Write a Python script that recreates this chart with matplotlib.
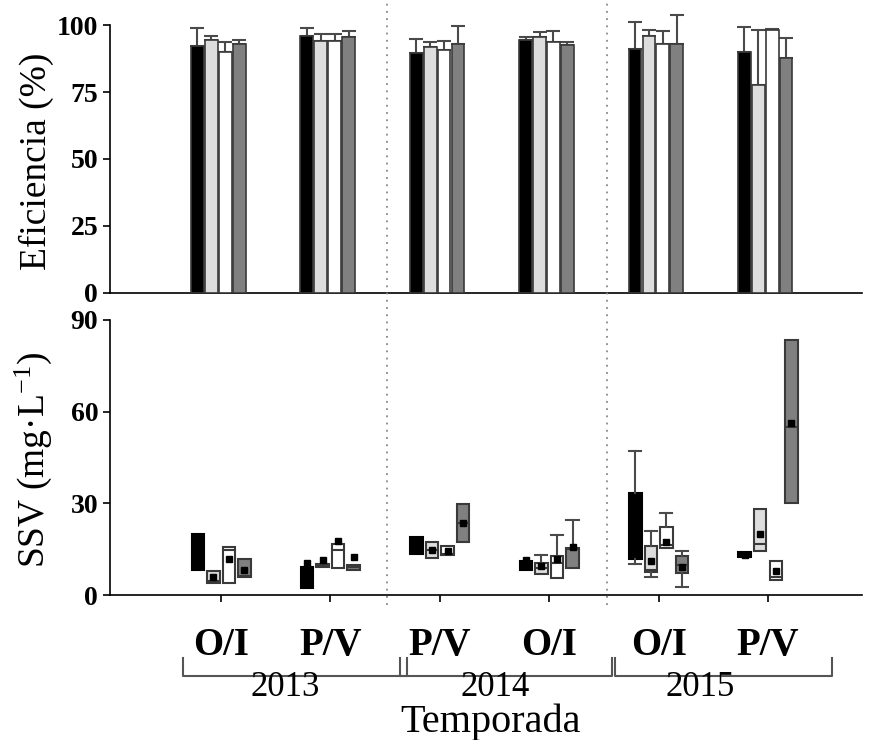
import numpy as np
import matplotlib
matplotlib.use('Agg')
import matplotlib.pyplot as plt
from matplotlib.transforms import blended_transform_factory

plt.rcParams['font.family'] = ['Liberation Serif', 'DejaVu Serif']
plt.rcParams['mathtext.fontset'] = 'custom'
plt.rcParams['mathtext.rm'] = 'Liberation Serif'
plt.rcParams['mathtext.default'] = 'regular'

#%% data

groups = ['O/I', 'P/V', 'P/V', 'O/I', 'O/I', 'P/V']
years = ['2013', '2014', '2015']
colors = ['#000000', '#dddddd', '#ffffff', '#808080']

# Eficiencia (%) - mean and top of the error bar for the 4 series
eff_mean = [
    [92.2, 96.0, 89.4, 94.4, 90.9, 90.1],
    [94.4, 94.0, 91.9, 95.7, 96.0, 77.7],
    [90.0, 94.0, 90.8, 93.5, 93.1, 98.3],
    [92.9, 95.6, 93.1, 92.4, 92.9, 87.7],
]
eff_top = [
    [98.9, 98.9, 94.9, 95.7, 101.3, 99.3],
    [96.0, 96.5, 93.5, 97.3, 98.0, 98.0],
    [93.5, 96.8, 94.2, 97.6, 97.6, 98.5],
    [94.5, 97.6, 99.6, 93.5, 103.6, 95.3],
]

# SSV (mg/L) box stats, nan = no whisker
ssv_q1 = [
    [8.2, 2.2, 13.5, 8.2, 11.8, 12.5],
    [4.1, 9.1, 12.2, 6.8, 7.4, 14.5],
    [4.1, 8.7, 13.2, 5.5, 15.4, 4.9],
    [5.8, 8.3, 17.3, 8.7, 7.2, 30.1],
]
ssv_med = [
    [14.0, 5.0, 16.0, 9.5, 20.0, 13.0],
    [4.5, 9.7, 14.7, 8.7, 8.2, 16.8],
    [14.7, 14.7, 13.5, 10.6, 16.4, 6.0],
    [6.3, 9.1, 23.7, 15.0, 9.7, 55.0],
]
ssv_q3 = [
    [19.9, 9.2, 19.1, 11.0, 33.4, 14.0],
    [8.0, 10.3, 17.2, 10.6, 16.1, 28.1],
    [15.8, 16.6, 16.0, 12.9, 22.1, 11.2],
    [11.8, 9.8, 29.9, 15.5, 12.9, 83.4],
]
ssv_mean = [
    [14.0, 10.4, 16.0, 11.3, 22.0, 13.2],
    [5.8, 11.4, 14.7, 9.6, 11.0, 19.9],
    [11.7, 17.7, 14.3, 11.7, 17.3, 8.0],
    [8.2, 12.4, 23.7, 15.8, 9.2, 56.2],
]
nan = np.nan
ssv_lo = [
    [nan, nan, nan, nan, 10.0, nan],
    [nan, nan, nan, nan, 5.9, nan],
    [nan, nan, nan, nan, nan, nan],
    [nan, nan, nan, nan, 2.7, nan],
]
ssv_hi = [
    [nan, nan, nan, nan, 47.1, nan],
    [nan, nan, nan, 13.2, 21.0, nan],
    [nan, nan, nan, 19.7, 26.7, nan],
    [nan, nan, nan, 24.5, 14.4, nan],
]

#%% figure

fig = plt.figure(figsize=(8.69, 7.4), dpi=100)
ax1 = fig.add_axes([0.1266, 0.6041, 0.8654, 0.3621])
ax2 = fig.add_axes([0.1266, 0.1959, 0.8654, 0.3717])

pos = np.arange(len(groups))
edge = '#3a3a3a'

# top panel: bars with one-sided error bars
for i in range(4):
    x = pos + (i - 1.5) * 0.127 - 0.025
    m = np.array(eff_mean[i])
    up = np.array(eff_top[i]) - m
    ax1.bar(x, m, width=0.117, color=colors[i], edgecolor=edge, linewidth=1.2, zorder=3)
    eb = ax1.errorbar(x, m, yerr=[np.zeros_like(m), up], fmt='none', ecolor='#4a4a4a',
                      elinewidth=1.5, capsize=5, capthick=1.5, zorder=2)
    for a in eb.lines[1] + eb.lines[2]:
        a.set_clip_on(False)

ax1.set_ylim(0, 100)
ax1.set_yticks([0, 25, 50, 75, 100])
ax1.set_xticks([])
ax1.set_ylabel('Eficiencia (%)', fontsize=27)

# bottom panel: boxes
for i in range(4):
    x = pos + (i - 1.5) * 0.142
    stats = []
    for g in range(len(groups)):
        stats.append({'q1': ssv_q1[i][g], 'med': ssv_med[i][g], 'q3': ssv_q3[i][g],
                      'mean': ssv_mean[i][g], 'whislo': ssv_lo[i][g],
                      'whishi': ssv_hi[i][g], 'fliers': []})
    ec = '#000000' if i == 0 else edge
    ax2.bxp(stats, positions=x, widths=0.114, patch_artist=True, showmeans=True,
            showfliers=False, manage_ticks=False,
            boxprops=dict(facecolor=colors[i], edgecolor=ec, linewidth=1.5),
            medianprops=dict(color=ec, linewidth=1.5),
            whiskerprops=dict(color='#4a4a4a', linewidth=1.5),
            capprops=dict(color='#4a4a4a', linewidth=1.5),
            capwidths=0.11,
            meanprops=dict(marker='s', markersize=4.5, markerfacecolor='black',
                           markeredgecolor='black'))

ax2.set_ylim(0, 90)
ax2.set_yticks([0, 30, 60, 90])
ax2.set_xticks(pos)
ax2.set_xticklabels([])
ax2.tick_params(axis='x', length=5, width=1.2, direction='out')
ax2.set_ylabel('SSV (mg·L$^{-1}$)', fontsize=27)

for ax in (ax1, ax2):
    ax.set_xlim(-1.015, 5.86)
    ax.spines['top'].set_visible(False)
    ax.spines['right'].set_visible(False)
    ax.spines['left'].set_linewidth(1.2)
    ax.spines['bottom'].set_linewidth(1.2)
    ax.tick_params(axis='y', length=5, width=1.2, labelsize=20)
    for lab in ax.get_yticklabels():
        lab.set_fontweight('bold')
    ax.yaxis.set_label_coords(-0.074, 0.49)

# dotted separators across both panels
tr = blended_transform_factory(ax2.transData, fig.transFigure)
for xs in [1.52, 3.53]:
    fig.add_artist(plt.Line2D([xs, xs], [0.182, 1.0], transform=tr, color='#888888',
                              linestyle=(0, (1, 3)), linewidth=1.3))

# group labels, brackets and years
xt = ax2.get_xaxis_transform()
for g, lab in enumerate(groups):
    ax2.text(pos[g], -0.182, lab, transform=xt, ha='center', va='center',
             fontsize=28, fontweight='bold')

brackets = [(-0.347, 1.70), (1.64, 3.57), (3.60, 5.585)]
year_x = [0.585, 2.505, 4.378]
for (b0, b1), yx, yr in zip(brackets, year_x, years):
    ax2.plot([b0, b0, b1, b1], [-0.229, -0.2945, -0.2945, -0.229], transform=xt,
             color='#555555', linewidth=1.5, clip_on=False)
    ax2.text(yx, -0.335, yr, transform=xt, ha='center', va='center', fontsize=25)

ax2.text(2.46, -0.462, 'Temporada', transform=xt, ha='center', va='center', fontsize=29)

plt.savefig('out.png', dpi=100)
